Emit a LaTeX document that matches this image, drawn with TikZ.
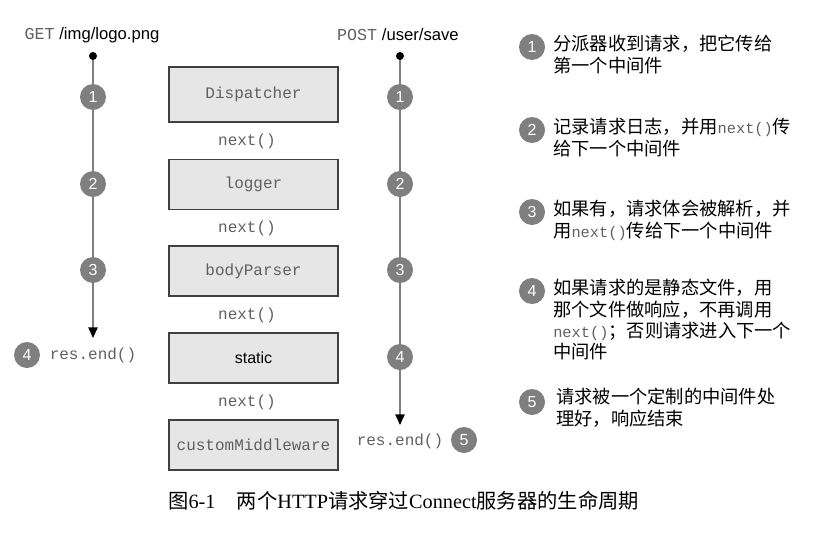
\documentclass[tikz,border=0pt]{standalone}
\usepackage{fontspec}
\setmainfont{Liberation Sans}
\setmonofont{Liberation Mono}
\newfontfamily\cjk{Noto Sans CJK SC}
\newfontfamily\capserif{Liberation Serif}
\usetikzlibrary{arrows.meta}
\definecolor{stepgray}{HTML}{7F7F7F}
\definecolor{boxfill}{HTML}{E6E6E6}
\definecolor{codegray}{HTML}{606060}
\newcommand{\nxt}{{\fontsize{11.5}{11.5}\ttfamily\color{codegray}next()}}

\begin{document}
\begin{tikzpicture}[x=0.75pt,y=-0.75pt,
    num/.style={circle,fill=stepgray,text=white,inner sep=0pt,minimum size=19.5pt,font=\fontsize{12}{12}\selectfont},
    mw/.style={draw=black!75,fill=boxfill,line width=0.8pt,minimum width=126.75pt,minimum height=37.5pt,font=\fontsize{12}{14}\ttfamily,text=codegray},
    code/.style={font=\fontsize{12}{14}\ttfamily,text=codegray},
    route/.style={draw=stepgray,line width=1pt,-{Triangle[black,width=7pt,length=8pt]}},
    note/.style={anchor=north west,align=left,font=\fontsize{13.7}{16}\cjk,inner sep=0pt}]
\useasboundingbox (0,0) rectangle (824,532);

% middleware stack
\node[mw,minimum height=41.25pt] (disp) at (253.5,94.5) {Dispatcher};
\node[mw] (logger) at (253.5,184.5) {logger};
\node[mw] (body) at (253.5,271) {bodyParser};
\node[mw,font=\fontsize{12}{14}\selectfont,text=black] (static) at (253.5,358) {static};
\node[mw] (custom) at (253.5,445) {customMiddleware};
\node[code] (n1) at (247,141) {next()};
\node[code] (n2) at (247,228) {next()};
\node[code] (n3) at (247,315) {next()};
\node[code] (n4) at (247,402) {next()};

% GET request
\node[font=\fontsize{12.5}{14}\selectfont] (get) at (92,35) {{\ttfamily\color{codegray}GET} /img/logo.png};
\coordinate (gs) at (93,56);
\coordinate (ge) at (93,338);
\draw[route] (gs) -- (ge);
\fill (gs) circle (3pt);
\node[num] (g1) at (93,97) {1};
\node[num] (g2) at (93,184) {2};
\node[num] (g3) at (93,270) {3};
\node[num] (g4) at (27,355) {4};
\node[code] (gend) at (93,355) {res.end()};

% POST request
\node[font=\fontsize{12.5}{14}\selectfont] (post) at (398,35) {{\ttfamily\color{codegray}POST} /user/save};
\coordinate (ps) at (400,56);
\coordinate (pe) at (400,425);
\draw[route] (ps) -- (pe);
\fill (ps) circle (3pt);
\node[num] (p1) at (400,97) {1};
\node[num] (p2) at (400,184) {2};
\node[num] (p3) at (400,270) {3};
\node[num] (p4) at (400,357) {4};
\node[code] (pend) at (400,441) {res.end()};
\node[num] (p5) at (464,440) {5};

% notes
\node[num] (k1) at (532,47) {1};
\node[note] (t1) at (553,35) {分派器收到请求，把它传给\\第一个中间件};
\node[num] (k2) at (532,130) {2};
\node[note] (t2) at (553,118) {记录请求日志，并用\nxt 传\\给下一个中间件};
\node[num] (k3) at (532,212) {3};
\node[note] (t3) at (553,200) {如果有，请求体会被解析，并\\用\nxt 传给下一个中间件};
\node[num] (k4) at (532,291) {4};
\node[note] (t4) at (553,279) {如果请求的是静态文件，用\\那个文件做响应，不再调用\\\nxt；否则请求进入下一个\\中间件};
\node[num] (k5) at (532,402) {5};
\node[note] (t5) at (556,388) {请求被一个定制的中间件处\\理好，响应结束};

% caption
\node[anchor=west,inner sep=0pt,font=\fontsize{15.2}{16}\capserif] (cap) at (168,501)
  {{\cjk 图}6-1\hspace{16pt}{\cjk 两个}HTTP{\cjk 请求穿过}Connect{\cjk 服务器的生命周期}};
\end{tikzpicture}
\end{document}
